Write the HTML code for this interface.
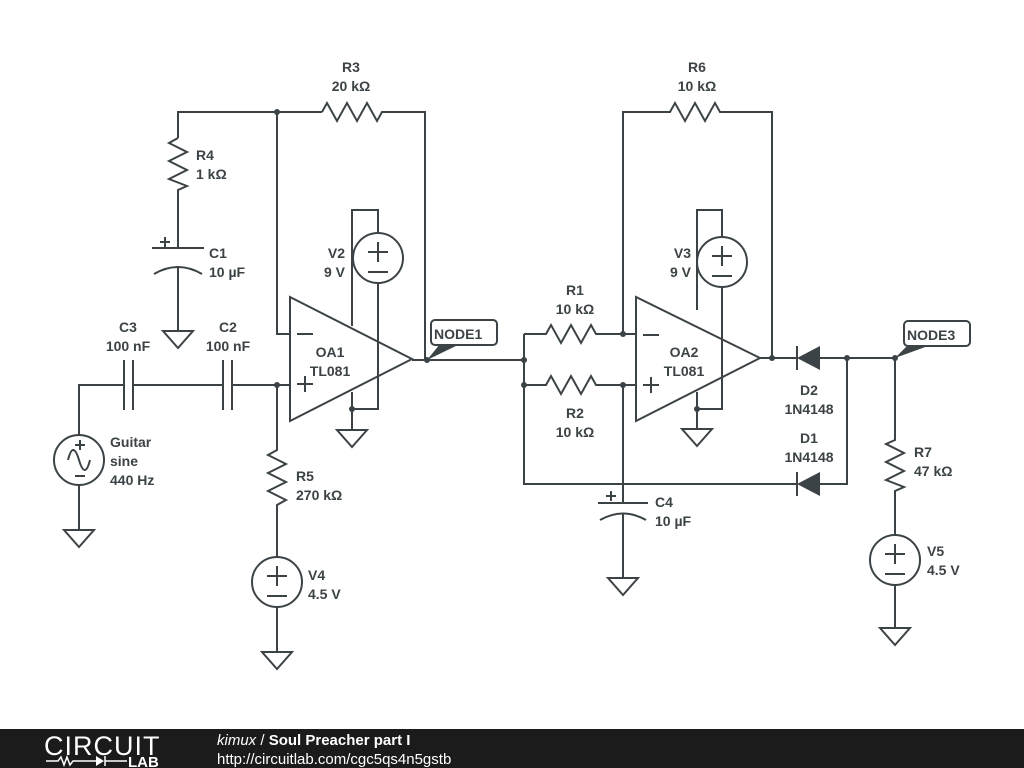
<!DOCTYPE html>
<html><head><meta charset="utf-8"><style>
html,body{margin:0;padding:0;background:#fff;width:1024px;height:768px;overflow:hidden}
svg{display:block}
text{font-family:"Liberation Sans",sans-serif;font-weight:bold;font-size:14px;fill:#3c4346}
</style></head><body>
<svg width="1024" height="768" viewBox="0 0 1024 768">
<g stroke="#3c4346" stroke-width="2" fill="none">
<polyline points="178,138 178,112 322,112"/>
<polyline points="322,112 327,103 337,121 347,103 357,121 367,103 377,121 382,112 425,112 425,360"/>
<polyline points="178,138 169,143 187,152 169,161 187,170 169,179 187,186 178,190 178,248"/>
<line x1="152" y1="248" x2="204" y2="248"/>
<path d="M154,274 Q178,260 202,274"/>
<line x1="178" y1="266" x2="178" y2="330"/>
<line x1="160" y1="242" x2="170" y2="242"/><line x1="165" y1="237" x2="165" y2="247"/>
<polygon points="163,331 193,331 178,348"/>
<polyline points="277,112 277,334 290,334"/>
<polygon points="290,297 290,421 412,359"/>
<line x1="297" y1="334" x2="313" y2="334"/><line x1="297" y1="384" x2="313" y2="384"/><line x1="305" y1="376" x2="305" y2="392"/>
<polyline points="352,326 352,210 378,210 378,233"/>
<circle cx="378" cy="258" r="25"/>
<line x1="368" y1="252" x2="388" y2="252"/><line x1="378" y1="242" x2="378" y2="262"/><line x1="368" y1="272" x2="388" y2="272"/>
<polyline points="378,283 378,409 352,409"/>
<line x1="352" y1="392" x2="352" y2="430"/>
<polygon points="337,430 367,430 352,447"/>
<line x1="412" y1="360" x2="524" y2="360"/>
<polyline points="79,435 79,385 124,385"/>
<line x1="124" y1="360" x2="124" y2="410"/><line x1="133" y1="360" x2="133" y2="410"/>
<line x1="133" y1="385" x2="223" y2="385"/>
<line x1="223" y1="360" x2="223" y2="410"/><line x1="232" y1="360" x2="232" y2="410"/>
<line x1="232" y1="385" x2="290" y2="385"/>
<circle cx="79" cy="460" r="25"/>
<path d="M68,460 Q73,440 79,460 Q85,480 90,460"/>
<line x1="75" y1="445" x2="85" y2="445"/><line x1="80" y1="440" x2="80" y2="450"/><line x1="75" y1="476" x2="85" y2="476"/>
<line x1="79" y1="485" x2="79" y2="530"/>
<polygon points="64,530 94,530 79,547"/>
<polyline points="277,385 277,450 268,455 286,464 268,473 286,482 268,491 286,500 277,505 277,557"/>
<circle cx="277" cy="582" r="25"/>
<line x1="267" y1="576" x2="287" y2="576"/><line x1="277" y1="566" x2="277" y2="586"/><line x1="267" y1="596" x2="287" y2="596"/>
<line x1="277" y1="607" x2="277" y2="652"/>
<polygon points="262,652 292,652 277,669"/>
<polyline points="524,334 524,484 797,484"/>
<polyline points="524,334 546,334 551,325 561,343 571,325 581,343 591,325 596,334 636,334"/>
<polyline points="524,385 546,385 551,376 561,394 571,376 581,394 591,376 596,385 636,385"/>
<polyline points="623,334 623,112 670,112 675,103 685,121 695,103 705,121 715,103 720,112 772,112 772,358"/>
<line x1="623" y1="385" x2="623" y2="503"/>
<line x1="598" y1="503" x2="648" y2="503"/>
<path d="M600,520 Q623,507 646,520"/>
<line x1="623" y1="513" x2="623" y2="578"/>
<line x1="606" y1="496" x2="616" y2="496"/><line x1="611" y1="491" x2="611" y2="501"/>
<polygon points="608,578 638,578 623,595"/>
<polygon points="636,297 636,421 760,358"/>
<line x1="643" y1="335" x2="659" y2="335"/><line x1="643" y1="385" x2="659" y2="385"/><line x1="651" y1="377" x2="651" y2="393"/>
<polyline points="697,310 697,210 722,210 722,237"/>
<circle cx="722" cy="262" r="25"/>
<line x1="712" y1="256" x2="732" y2="256"/><line x1="722" y1="246" x2="722" y2="266"/><line x1="712" y1="276" x2="732" y2="276"/>
<polyline points="722,287 722,409 697,409"/>
<line x1="697" y1="392" x2="697" y2="429"/>
<polygon points="682,429 712,429 697,446"/>
<line x1="760" y1="358" x2="797" y2="358"/>
<line x1="797" y1="346" x2="797" y2="370"/><line x1="797" y1="472" x2="797" y2="496"/>
<line x1="820" y1="358" x2="895" y2="358"/>
<polyline points="820,484 847,484 847,358"/>
<polyline points="895,358 895,440 886,444 904,453 886,462 904,471 886,480 904,487 895,491 895,535"/>
<circle cx="895" cy="560" r="25"/>
<line x1="885" y1="554" x2="905" y2="554"/><line x1="895" y1="544" x2="895" y2="564"/><line x1="885" y1="574" x2="905" y2="574"/>
<line x1="895" y1="585" x2="895" y2="628"/>
<polygon points="880,628 910,628 895,645"/>
<rect x="431" y="320" width="66" height="25" rx="4" fill="#fff"/>
<rect x="904" y="321" width="66" height="25" rx="4" fill="#fff"/>
</g>
<g fill="#3c4346">
<polygon points="797,358 820,346 820,370"/>
<polygon points="797,484 820,472 820,496"/>
<polygon points="427,360 440,344 460,344"/>
<polygon points="895,358 907,346 928,346"/>
<circle cx="277" cy="112" r="3"/><circle cx="277" cy="385" r="3"/><circle cx="352" cy="409" r="3"/><circle cx="427" cy="360" r="3"/>
<circle cx="524" cy="360" r="3"/><circle cx="524" cy="385" r="3"/><circle cx="623" cy="334" r="3"/><circle cx="623" cy="385" r="3"/>
<circle cx="697" cy="409" r="3"/><circle cx="772" cy="358" r="3"/><circle cx="847" cy="358" r="3"/><circle cx="895" cy="358" r="3"/>
</g>
<text x="434" y="339">NODE1</text><text x="907" y="340">NODE3</text>
<g text-anchor="middle">
<text x="351" y="72">R3</text><text x="351" y="91">20 kΩ</text>
<text x="697" y="72">R6</text><text x="697" y="91">10 kΩ</text>
<text x="575" y="295">R1</text><text x="575" y="314">10 kΩ</text>
<text x="575" y="418">R2</text><text x="575" y="437">10 kΩ</text>
<text x="128" y="332">C3</text><text x="128" y="351">100 nF</text>
<text x="228" y="332">C2</text><text x="228" y="351">100 nF</text>
<text x="809" y="395">D2</text><text x="809" y="414">1N4148</text>
<text x="809" y="443">D1</text><text x="809" y="462">1N4148</text>
<text x="330" y="357">OA1</text><text x="330" y="376">TL081</text>
<text x="684" y="357">OA2</text><text x="684" y="376">TL081</text>
</g>
<text x="196" y="160">R4</text><text x="196" y="179">1 kΩ</text>
<text x="209" y="258">C1</text><text x="209" y="277">10 µF</text>
<text x="655" y="507">C4</text><text x="655" y="526">10 µF</text>
<text x="110" y="447">Guitar</text><text x="110" y="466">sine</text><text x="110" y="485">440 Hz</text>
<text x="296" y="481">R5</text><text x="296" y="500">270 kΩ</text>
<text x="308" y="580">V4</text><text x="308" y="599">4.5 V</text>
<text x="914" y="457">R7</text><text x="914" y="476">47 kΩ</text>
<text x="927" y="556">V5</text><text x="927" y="575">4.5 V</text>
<g text-anchor="end"><text x="345" y="258">V2</text><text x="345" y="277">9 V</text>
<text x="691" y="258">V3</text><text x="691" y="277">9 V</text></g>
<rect x="0" y="729" width="1024" height="39" fill="#1b1b1b"/>
<text x="44" y="755" style="font-weight:normal;font-size:27px;fill:#fff;letter-spacing:1px">CIRCUIT</text>
<polyline points="46,761 58,761 61,757 64,765 67,757 70,765 73,761 96,761" stroke="#fff" stroke-width="1.5" fill="none"/>
<polygon points="96,756 96,766 104,761" fill="#fff"/><line x1="105" y1="756" x2="105" y2="766" stroke="#fff" stroke-width="1.5"/>
<line x1="105" y1="761" x2="127" y2="761" stroke="#fff" stroke-width="1.5"/>
<text x="128" y="767" style="font-size:15px;fill:#fff">LAB</text>
<text x="217" y="745" style="font-size:15px;fill:#fff"><tspan style="font-style:italic;font-weight:normal">kimux</tspan><tspan style="font-weight:normal"> / </tspan>Soul Preacher part I</text>
<text x="217" y="764" style="font-size:15px;font-weight:normal;fill:#fff">http://circuitlab.com/cgc5qs4n5gstb</text>
</svg>
</body></html>
